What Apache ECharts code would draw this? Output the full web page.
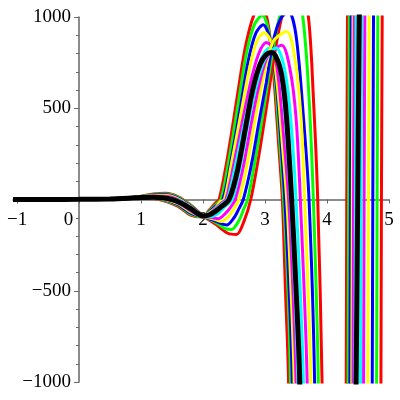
<!DOCTYPE html>
<html><head><meta charset="utf-8">
<script src="https://cdn.jsdelivr.net/npm/echarts@6/dist/echarts.min.js"></script>
<style>html,body{margin:0;padding:0;background:#fff}#c{width:400px;height:400px}</style>
</head><body><div id="c"></div>
<script>
// x tick labels and y tick labels
const xTicks = [-1, 0, 1, 2, 3, 4, 5];
const yTicks = [-1000, -500, 0, 500, 1000];

// Curves: [x, y] pairs. Values beyond +-1000 are clipped by the axes.
const redA = [[-1.065,0],[0,1],[0.8,5],[1.0,10],[1.2,7],[1.4,-10],[1.6,-38],[1.8,-86],[2.0,-96],[2.1,-58],[2.2,-20],[2.26,0],[2.4,240],[2.55,560],[2.68,830],[2.82,1010],[2.95,1060],[3.05,960],[3.14,680],[3.22,300],[3.28,0],[3.33,-500],[3.38,-1000],[3.44,-3000],[4.28,-3000],[4.31,-1000],[4.33,1000],[4.39,3000],[5,3000]];
const greenA = [[-1.065,0],[0,1],[0.8,6],[1.0,10],[1.2,8],[1.4,-7],[1.6,-33],[1.8,-80],[2.0,-95],[2.1,-62],[2.2,-30],[2.29,0],[2.42,220],[2.57,530],[2.7,800],[2.83,960],[2.96,1010],[3.06,920],[3.16,660],[3.24,300],[3.30,0],[3.37,-500],[3.41,-1000],[3.47,-3000],[4.31,-3000],[4.34,-1000],[4.36,1000],[4.42,3000],[5,3000]];
const blueA = [[-1.065,0],[0,1],[0.8,6],[1.0,10],[1.2,9],[1.4,-4],[1.6,-28],[1.8,-74],[2.0,-94],[2.1,-68],[2.2,-38],[2.32,0],[2.45,210],[2.6,500],[2.73,760],[2.85,910],[2.97,958],[3.08,880],[3.18,640],[3.26,300],[3.32,0],[3.39,-500],[3.44,-1000],[3.5,-3000],[4.34,-3000],[4.37,-1000],[4.39,1000],[4.45,3000],[5,3000]];
const yellowA = [[-1.065,0],[0,1],[0.8,6],[1.0,11],[1.2,10],[1.4,-1],[1.6,-23],[1.8,-68],[2.0,-93],[2.1,-72],[2.2,-45],[2.28,-12],[2.345,0],[2.45,180],[2.6,450],[2.75,720],[2.87,870],[2.99,914],[3.1,860],[3.2,620],[3.28,300],[3.35,0],[3.42,-500],[3.47,-1000],[3.54,-3000],[4.37,-3000],[4.40,-1000],[4.42,1000],[4.48,3000],[5,3000]];
const magentaA = [[-1.065,0],[0,1],[0.8,7],[1.0,11],[1.2,11],[1.4,2],[1.6,-18],[1.8,-62],[2.0,-92],[2.1,-78],[2.2,-50],[2.3,-18],[2.37,0],[2.5,200],[2.63,420],[2.78,660],[2.9,800],[3.02,860],[3.13,830],[3.22,650],[3.3,350],[3.38,0],[3.45,-500],[3.5,-1000],[3.57,-3000],[4.39,-3000],[4.42,-1000],[4.44,1000],[4.5,3000],[5,3000]];
const cyanA = [[-1.065,0],[0,1],[0.8,7],[1.0,11],[1.2,12],[1.4,5],[1.6,-13],[1.8,-56],[2.0,-91],[2.1,-82],[2.2,-55],[2.3,-25],[2.39,0],[2.5,150],[2.65,390],[2.8,620],[2.95,780],[3.07,830],[3.18,790],[3.28,620],[3.35,330],[3.41,0],[3.48,-500],[3.53,-1000],[3.6,-3000],[4.42,-3000],[4.45,-1000],[4.47,1000],[4.53,3000],[5,3000]];
const cyanB = [[-1.065,0],[0,1],[0.8,7],[1.0,12],[1.2,16],[1.4,13],[1.6,-4],[1.8,-46],[2.0,-90],[2.1,-95],[2.25,-75],[2.35,-40],[2.47,0],[2.6,180],[2.72,400],[2.85,610],[3.0,770],[3.18,830],[3.3,740],[3.4,500],[3.5,0],[3.62,-1000],[3.7,-3000],[4.5,-3000],[4.54,-1000],[4.56,1000],[4.62,3000],[5,3000]];
const magentaB = [[-1.065,0],[0,1],[0.8,8],[1.0,13],[1.2,19],[1.4,18],[1.6,0],[1.8,-43],[2.0,-90],[2.15,-100],[2.25,-105],[2.35,-80],[2.45,-40],[2.52,0],[2.65,180],[2.78,420],[2.9,620],[3.05,790],[3.27,845],[3.4,720],[3.5,450],[3.57,0],[3.68,-1000],[3.75,-3000],[4.56,-3000],[4.59,-1000],[4.61,1000],[4.67,3000],[5,3000]];
const yellowB = [[-1.065,0],[0,1],[0.8,8],[1.0,14],[1.2,22],[1.4,22],[1.6,4],[1.8,-40],[2.0,-90],[2.2,-110],[2.3,-120],[2.42,-90],[2.5,-50],[2.58,0],[2.7,170],[2.83,420],[2.95,630],[3.13,865],[3.35,920],[3.48,780],[3.58,450],[3.64,0],[3.74,-1000],[3.8,-3000],[4.63,-3000],[4.66,-1000],[4.68,1000],[4.74,3000],[5,3000]];
const blueB = [[-1.065,0],[0,1],[0.8,8],[1.0,15],[1.2,25],[1.4,26],[1.6,8],[1.8,-37],[2.0,-90],[2.2,-118],[2.38,-140],[2.5,-100],[2.58,-50],[2.65,0],[2.78,190],[2.9,420],[3.02,640],[3.13,865],[3.25,990],[3.38,1030],[3.5,900],[3.62,450],[3.71,0],[3.80,-1000],[3.86,-3000],[4.7,-3000],[4.73,-1000],[4.75,1000],[4.8,3000],[5,3000]];
const greenB = [[-1.065,0],[0,1],[0.8,9],[1.0,16],[1.2,28],[1.4,30],[1.6,12],[1.8,-33],[2.0,-90],[2.2,-125],[2.35,-158],[2.46,-165],[2.58,-115],[2.66,-50],[2.72,0],[2.85,230],[2.98,500],[3.1,760],[3.22,980],[3.4,1150],[3.52,1120],[3.61,1000],[3.7,620],[3.78,0],[3.86,-1000],[3.92,-3000],[4.77,-3000],[4.8,-1000],[4.82,1000],[4.88,3000],[5,3000]];
const redB = [[-1.065,0],[0,1],[0.8,9],[1.0,18],[1.2,30],[1.4,34],[1.6,15],[1.8,-30],[2.0,-90],[2.2,-135],[2.4,-185],[2.54,-192],[2.66,-120],[2.77,0],[2.9,240],[3.03,520],[3.15,790],[3.27,1000],[3.45,1200],[3.58,1150],[3.7,1000],[3.78,560],[3.85,0],[3.92,-1000],[3.98,-3000],[4.85,-3000],[4.87,-1000],[4.89,1000],[4.95,3000],[5,3000]];
const blackCurve = [[-1.065,0],[-0.5,0],[0,1],[0.5,3],[0.8,7],[1.0,11],[1.2,13],[1.35,10],[1.5,0],[1.65,-20],[1.8,-50],[1.92,-78],[2.0,-90],[2.1,-85],[2.2,-65],[2.3,-38],[2.42,0],[2.55,150],[2.68,383],[2.8,600],[2.92,740],[3.02,795],[3.11,805],[3.2,765],[3.27,680],[3.33,520],[3.38,290],[3.43,0],[3.5,-480],[3.56,-1000],[3.62,-3000],[4.4,-3000],[4.47,-1000],[4.495,0],[4.52,1000],[4.58,3000],[5,3000]];

const curves = [
  [redA,'#ff0000'],[greenA,'#00ff00'],[blueA,'#0000ff'],[yellowA,'#ffff00'],[magentaA,'#ff00ff'],[cyanA,'#00ffff'],
  [redB,'#ff0000'],[greenB,'#00ff00'],[blueB,'#0000ff'],[yellowB,'#ffff00'],[magentaB,'#ff00ff'],[cyanB,'#00ffff']
];

const X_MIN = -1.065, X_MAX = 5, Y_MIN = -1000, Y_MAX = 1000;
const G = {left:13, right:11, top:17, bottom:18};
const W = 400 - G.left - G.right, H = 400 - G.top - G.bottom;
// offsets so that the axes cross at the origin, as in the reference
const yAxisOffset = -((0 - X_MIN) / (X_MAX - X_MIN)) * W;
const xAxisOffset = -((0 - Y_MIN) / (Y_MAX - Y_MIN)) * H;

const chart = echarts.init(document.getElementById('c'), null, {renderer:'canvas'});
const font = 'Liberation Serif';
const series = curves.map(([d,c]) => ({
  type:'line', data:d, showSymbol:false, smooth:0.3, clip:true, animation:false,
  lineStyle:{color:c, width:3}, z:2
}));
series.push({type:'line', data:blackCurve, showSymbol:false, smooth:0.3, clip:true, animation:false,
  lineStyle:{color:'#000000', width:5}, z:3});

const minus = v => (v < 0 ? '\u2212' + Math.abs(v) : String(v));

chart.setOption({
  backgroundColor:'#ffffff',
  animation:false,
  grid:{left:G.left, right:G.right, top:G.top, bottom:G.bottom, containLabel:false, outerBoundsMode:'none'},
  xAxis:{type:'value', min:X_MIN, max:X_MAX, position:'bottom', offset:xAxisOffset, z:0,
    axisLine:{onZero:false, lineStyle:{color:'#666', width:1.5}},
    axisTick:{show:true, length:4, customValues:xTicks, lineStyle:{color:'#666'}},
    splitLine:{show:false},
    axisLabel:{customValues:xTicks, color:'#000', fontFamily:font, fontSize:19, margin:11,
      formatter:v => v===0 ? '{z|0}' : minus(v),
      rich:{z:{padding:[0,21,0,0], fontFamily:font, fontSize:19, color:'#000'}}}
  },
  yAxis:{type:'value', min:Y_MIN, max:Y_MAX, interval:500, position:'left', offset:yAxisOffset, z:0,
    axisLine:{onZero:false, lineStyle:{color:'#666', width:1.5}},
    axisTick:{show:true, length:5, lineStyle:{color:'#666'}},
    minorTick:{show:true, splitNumber:5, length:3, lineStyle:{color:'#666'}},
    splitLine:{show:false},
    axisLabel:{color:'#000', fontFamily:font, fontSize:19, margin:8, padding:[3,0,0,0],
      formatter:v => v===0 ? '' : minus(v)}
  },
  series:series
});
</script></body></html>
